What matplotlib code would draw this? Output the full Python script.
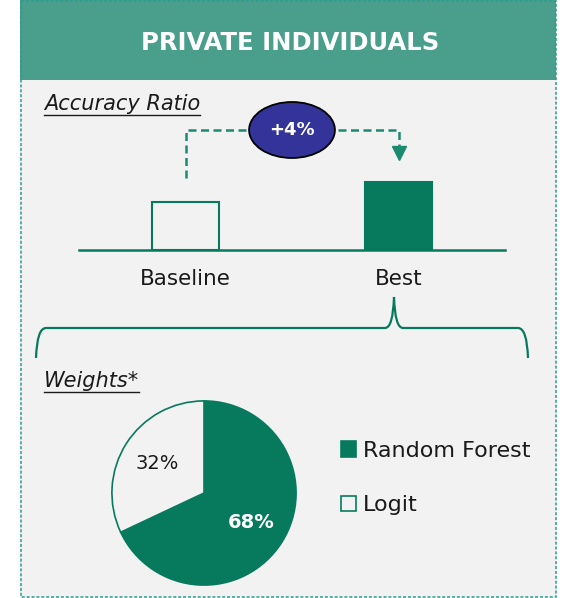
import matplotlib
matplotlib.use('Agg')
import matplotlib.pyplot as plt
from matplotlib.patches import Rectangle, Ellipse, PathPatch
from matplotlib.path import Path

W, H = 568, 598

# data
title = "PRIVATE INDIVIDUALS"
ar_labels = ["Baseline", "Best"]
ar_values = [0.48, 0.68]
ar_gain = "+4%"
weight_labels = ["Random Forest", "Logit"]
weight_values = [68, 32]

teal = '#077a5e'
header_col = '#4a9f8c'
panel_col = '#f2f2f2'
dash_col = '#1a8a70'
border_col = '#2a9d8f'
oval_col = '#343399'
text_col = '#1a1a1a'

plt.rcParams['font.family'] = ['DejaVu Sans']

fig = plt.figure(figsize=(W / 100, H / 100), dpi=100)
fig.patch.set_facecolor('white')

# background / decoration layer in pixel coords
bg = fig.add_axes([0, 0, 1, 1])
bg.set_xlim(0, W)
bg.set_ylim(H, 0)
bg.axis('off')

bg.add_patch(Rectangle((20, 0), 536, 597, facecolor=panel_col, edgecolor='none'))
bg.add_patch(Rectangle((20, 0), 536, 80, facecolor=header_col, edgecolor='none'))
bg.add_patch(Rectangle((20.5, 0.5), 535, 596, facecolor='none', edgecolor=border_col,
                       lw=1.1, ls=(0, (2, 1.2))))
bg.text(290, 43, title, color='white', fontsize=17.5, fontweight='bold',
        ha='center', va='center')


def heading(x, y, s):
    t = bg.text(x, y, s, fontsize=15, style='italic', color=text_col, va='baseline')
    fig.canvas.draw()
    bb = t.get_window_extent()
    inv = bg.transData.inverted()
    x0 = inv.transform((bb.x0, bb.y0))[0]
    x1 = inv.transform((bb.x1, bb.y0))[0]
    bg.plot([x0, x1], [y + 5, y + 5], color=text_col, lw=1)


heading(44, 110, "Accuracy Ratio")
heading(44, 387, "Weights*")

# brace
verts = [(36, 358), (37, 328), (46, 328), (385, 328), (393, 328), (394, 297),
         (395, 328), (403, 328), (518, 328), (527, 328), (528, 358)]
codes = [Path.MOVETO, Path.CURVE3, Path.CURVE3, Path.LINETO, Path.CURVE3, Path.CURVE3,
         Path.CURVE3, Path.CURVE3, Path.LINETO, Path.CURVE3, Path.CURVE3]
bg.add_patch(PathPatch(Path(verts, codes), facecolor='none', edgecolor=teal, lw=1.6))

# accuracy ratio bars
ax = fig.add_axes([79 / W, (H - 250) / H, 426 / W, 100 / H])
ax.patch.set_alpha(0)
x = range(len(ar_labels))
ax.bar(x, ar_values, width=0.31, color=['none', teal], edgecolor=teal, lw=1.5, zorder=2)
ax.set_xlim(-0.5, 1.5)
ax.set_ylim(0, 1)
for s in ['top', 'left', 'right']:
    ax.spines[s].set_visible(False)
ax.spines['bottom'].set_color(teal)
ax.spines['bottom'].set_linewidth(1.8)
ax.set_yticks([])
ax.set_xticks(list(x))
ax.set_xticklabels(ar_labels)
ax.tick_params(axis='x', length=0, pad=14, labelsize=15.5, labelcolor=text_col)

off = 0.24
top = 1.2
ax.plot([0, 0, 1, 1], [ar_values[0] + off, top, top, ar_values[1] + off + 0.1],
        color=dash_col, lw=1.8, ls=(0, (3.2, 1.8)), clip_on=False, zorder=3)
ax.plot(1, ar_values[1] + off + 0.05, marker='v', ms=10, color=dash_col,
        clip_on=False, zorder=3)
ax.add_patch(Ellipse((0.5, top), 0.403, 0.56, facecolor=oval_col, edgecolor='black',
                     lw=1.3, clip_on=False, zorder=4))
ax.text(0.5, top, ar_gain, color='white', fontsize=13, fontweight='bold',
        ha='center', va='center', zorder=5)

# weights pie
pax = fig.add_axes([(204 - 93) / W, (H - 493 - 93) / H, 186 / W, 186 / H])
wedges, texts, autotexts = pax.pie(weight_values, colors=[teal, panel_col], startangle=90,
                                   counterclock=False, autopct='%d%%', pctdistance=0.6,
                                   wedgeprops=dict(edgecolor=teal, lw=1.2))
pax.set_xlim(-1.01, 1.01)
pax.set_ylim(-1.01, 1.01)
autotexts[0].set_color('white')
autotexts[0].set_fontweight('bold')
autotexts[0].set_fontsize(14)
autotexts[1].set_color(text_col)
autotexts[1].set_fontsize(14)

fig.legend(wedges, weight_labels, loc='center left',
           bbox_to_anchor=(341 / W, (H - 478) / H), frameon=False, fontsize=16,
           handlelength=0.68, handleheight=0.68, handletextpad=0.3,
           labelspacing=1.55, borderpad=0, borderaxespad=0, labelcolor=text_col)

fig.savefig('out.png', dpi=100)
